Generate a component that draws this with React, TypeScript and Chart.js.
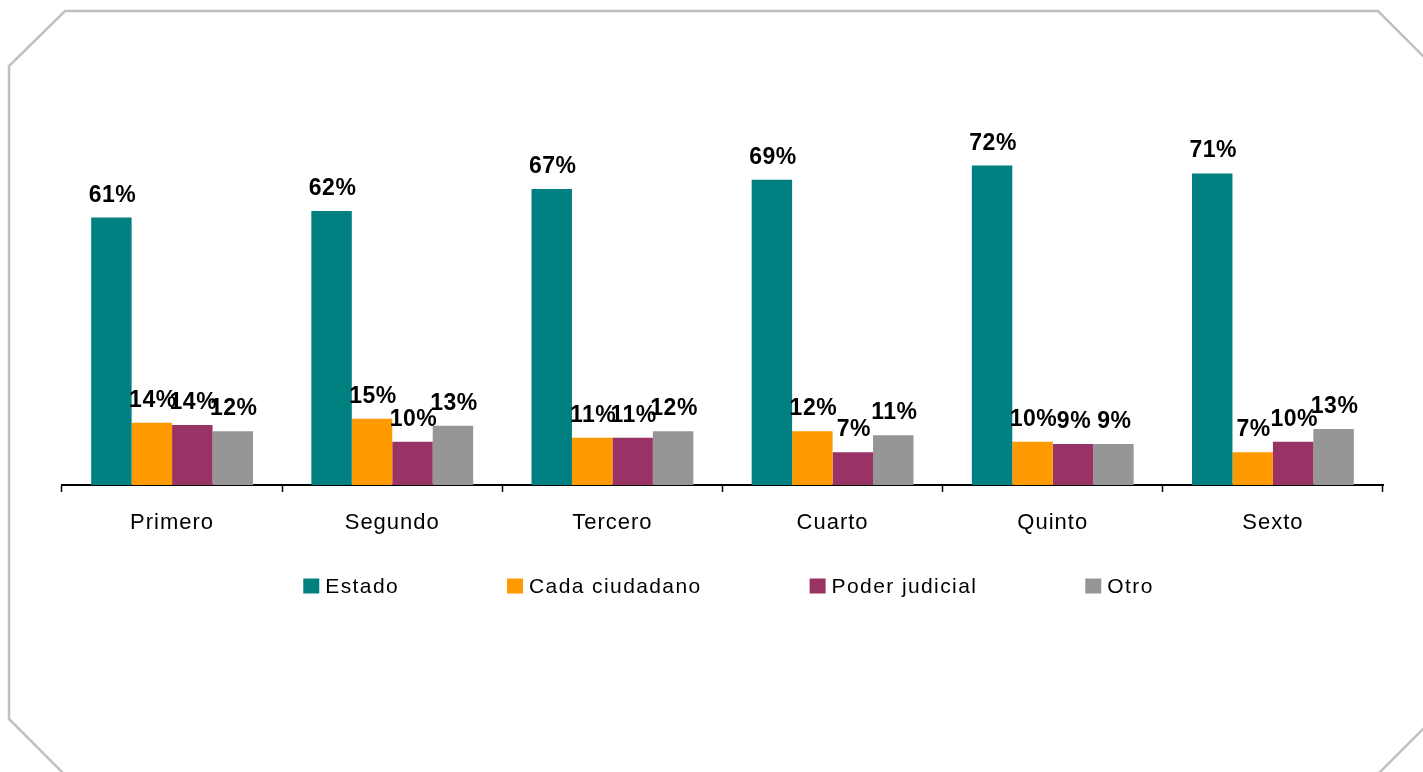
import React, { useEffect, useRef } from "react";
import { Chart, registerables } from "chart.js";

Chart.register(...registerables);

const categories = ["Primero", "Segundo", "Tercero", "Cuarto", "Quinto", "Sexto"];
const seriesNames = ["Estado", "Cada ciudadano", "Poder judicial", "Otro"];
const estado = [60.6, 62.1, 67.1, 69.2, 72.4, 70.6];
const cadaCiudadano = [14.1, 15.0, 10.7, 12.2, 9.8, 7.4];
const poderJudicial = [13.6, 9.8, 10.7, 7.4, 9.3, 9.8];
const otro = [12.2, 13.4, 12.2, 11.3, 9.3, 12.7];
const seriesColors = ["#008080", "#FF9900", "#993366", "#969696"];

const FONT = "'Liberation Sans', Arial, sans-serif";

const framePlugin = {
  id: "frame",
  beforeDraw(chart: any) {
    const ctx = chart.ctx;
    ctx.save();
    ctx.fillStyle = "#ffffff";
    ctx.fillRect(0, 0, chart.width, chart.height);
    ctx.beginPath();
    ctx.moveTo(65, 11);
    ctx.lineTo(1378, 11);
    ctx.lineTo(1433, 66);
    ctx.lineTo(1433, 719);
    ctx.lineTo(1378, 774);
    ctx.lineTo(64, 774);
    ctx.lineTo(9, 719);
    ctx.lineTo(9, 66);
    ctx.closePath();
    ctx.strokeStyle = "#c0c0c0";
    ctx.lineWidth = 2.5;
    ctx.stroke();
    ctx.restore();
    try {
      ctx.letterSpacing = "1px";
    } catch (e) {}
  },
};

const valueLabelPlugin = {
  id: "valueLabels",
  afterDatasetsDraw(chart: any) {
    const ctx = chart.ctx;
    ctx.save();
    try {
      ctx.letterSpacing = "0.5px";
    } catch (e) {}
    ctx.font = `bold 23px ${FONT}`;
    ctx.fillStyle = "#000000";
    ctx.textAlign = "center";
    ctx.textBaseline = "alphabetic";
    chart.data.datasets.forEach((ds: any, di: number) => {
      const meta = chart.getDatasetMeta(di);
      meta.data.forEach((bar: any, i: number) => {
        const v = ds.data[i];
        ctx.fillText(`${Math.round(v)}%`, bar.x + 1, bar.y - 16);
      });
    });
    ctx.restore();
  },
};

const legendPlugin = {
  id: "customLegend",
  afterDraw(chart: any) {
    const ctx = chart.ctx;
    ctx.save();
    try {
      ctx.letterSpacing = "1.4px";
    } catch (e) {}
    ctx.font = `21px ${FONT}`;
    const boxW = 16;
    const boxH = 15;
    const gapBox = 6;
    const gapItem = 108;
    const items = chart.data.datasets.map((ds: any) => ({
      text: ds.label,
      color: ds.backgroundColor,
      w: ctx.measureText(ds.label).width,
    }));
    let total = 0;
    items.forEach((it: any, i: number) => {
      total += boxW + gapBox + it.w + (i < items.length - 1 ? gapItem : 0);
    });
    const center = (chart.chartArea.left + chart.chartArea.right) / 2 + 6;
    let x = center - total / 2;
    const cy = 586;
    ctx.textBaseline = "middle";
    ctx.textAlign = "left";
    items.forEach((it: any) => {
      ctx.fillStyle = it.color;
      ctx.fillRect(x, cy - boxH / 2, boxW, boxH);
      ctx.fillStyle = "#000000";
      ctx.fillText(it.text, x + boxW + gapBox, cy + 1);
      x += boxW + gapBox + it.w + gapItem;
    });
    ctx.restore();
  },
};

export default function App() {
  const canvasRef = useRef<HTMLCanvasElement>(null);

  useEffect(() => {
    if (!canvasRef.current) return;
    const seriesData = [estado, cadaCiudadano, poderJudicial, otro];
    const chart = new Chart(canvasRef.current, {
      type: "bar",
      data: {
        labels: categories,
        datasets: seriesNames.map((name, i) => ({
          label: name,
          data: seriesData[i],
          backgroundColor: seriesColors[i],
          borderWidth: 0,
          categoryPercentage: 0.735,
          barPercentage: 1.0,
        })),
      },
      options: {
        animation: false,
        responsive: false,
        devicePixelRatio: 1,
        layout: {
          padding: { left: 62, right: 40, top: 132, bottom: 227 },
        },
        plugins: {
          legend: { display: false },
          tooltip: { enabled: false },
          title: { display: false },
        },
        scales: {
          x: {
            offset: true,
            grid: {
              display: true,
              offset: true,
              drawOnChartArea: false,
              drawTicks: true,
              tickLength: 7,
              tickWidth: 1.5,
              tickColor: "#000000",
              color: "#000000",
            },
            border: { display: true, color: "#000000", width: 2 },
            ticks: {
              color: "#000000",
              font: { family: FONT, size: 22 },
              padding: 18,
              maxRotation: 0,
              autoSkip: false,
            },
            afterFit: (scale: any) => {
              scale.height = 60;
            },
          },
          y: {
            display: false,
            min: 0,
            max: 80,
          },
        },
      },
      plugins: [framePlugin, valueLabelPlugin, legendPlugin],
    });
    return () => chart.destroy();
  }, []);

  return (
    <div style={{ position: "fixed", left: 0, top: 0, width: 1423, height: 772, background: "#fff" }}>
      <canvas ref={canvasRef} width={1423} height={772} style={{ display: "block" }} />
    </div>
  );
}
